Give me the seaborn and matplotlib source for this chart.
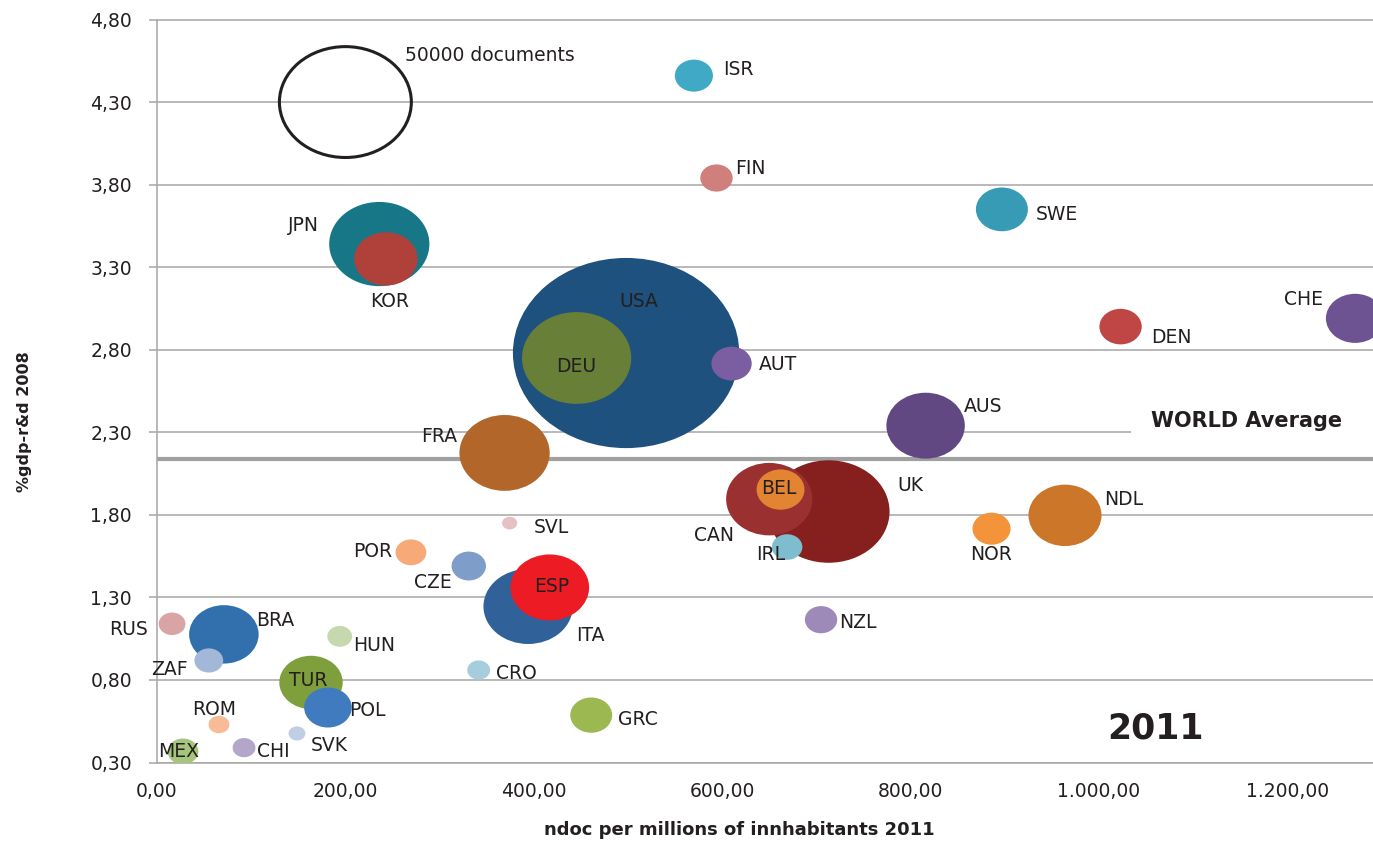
import numpy as np
import pandas as pd
import seaborn as sns
import matplotlib.pyplot as plt
from matplotlib.path import Path
from matplotlib.markers import MarkerStyle
from matplotlib.ticker import FuncFormatter

# data
countries = ["USA", "UK", "DEU", "JPN", "FRA", "ITA", "CAN", "ESP", "AUS", "NDL",
             "BRA", "KOR", "TUR", "CHE", "SWE", "BEL", "POL", "DEN", "GRC", "AUT",
             "ISR", "NOR", "CZE", "FIN", "NZL", "MEX", "POR", "IRL", "ZAF", "RUS",
             "HUN", "CRO", "CHI", "ROM", "SVK", "SVL"]
ndoc = [498, 713, 445.5, 236, 369, 394, 650, 417, 816, 964,
        71, 243, 163.5, 1272, 897, 662, 181.5, 1023, 461, 610,
        570, 886, 331, 594, 705, 27.6, 269.6, 669, 55, 16,
        194, 341.5, 92.4, 65.8, 148.6, 374.4]
gdp_rd = [2.78, 1.82, 2.75, 3.44, 2.175, 1.245, 1.895, 1.36, 2.34, 1.797,
          1.076, 3.35, 0.785, 2.99, 3.65, 1.953, 0.633, 2.94, 0.587, 2.716,
          4.46, 1.716, 1.49, 3.84, 1.165, 0.367, 1.573, 1.605, 0.918, 1.14,
          1.064, 0.86, 0.39, 0.53, 0.476, 1.75]
docs = [151500, 44000, 35300, 29700, 24100, 23600, 22000, 18300, 18200, 15800,
        14300, 11900, 11900, 10100, 8000, 6800, 6700, 5300, 5200, 4800,
        4300, 4300, 3500, 3100, 3100, 2800, 2800, 2750, 2450, 2120,
        1820, 1540, 1540, 1280, 840, 680]
colors = ["#1f517f", "#85201e", "#677f37", "#177787", "#b26629", "#306299", "#9b3031", "#ed1c24", "#614882", "#cb7629",
          "#3170ad", "#b0403a", "#7f9f3c", "#6e5393", "#389bb5", "#e38432", "#3f7bbe", "#c04545", "#9bb851", "#7b5ea1",
          "#3fa9c6", "#f3943b", "#7f9dc9", "#cf7f7c", "#9e8ab8", "#a5c47c", "#f7aa78", "#7ebccf", "#a3b7d9", "#d8a4a6",
          "#c6d8ae", "#a5cddc", "#b3a6c8", "#f7bb97", "#c0cee4", "#e5c1c3"]

x_ticks = [0, 200, 400, 600, 800, 1000, 1200]
y_ticks = [0.30, 0.80, 1.30, 1.80, 2.30, 2.80, 3.30, 3.80, 4.30, 4.80]
world_avg = 2.14
ref_docs = 50000

# label offsets from bubble centre in pixels (dx right, dy down) and alignment
label_pos = {
    "ISR": (29, -8, "left"), "FIN": (19, -12, "left"), "SWE": (34, 3, "left"),
    "JPN": (-60, -21, "right"), "KOR": (4, 41, "center"), "USA": (13, -54, "center"),
    "DEU": (0, 7, "center"), "AUT": (27, -1, "left"), "FRA": (-47, -18, "right"),
    "AUS": (38, -21, "left"), "CHE": (-32, -21, "right"), "DEN": (31, 9, "left"),
    "UK": (69, -28, "left"), "NDL": (39, -18, "left"), "NOR": (0, 24, "center"),
    "BEL": (-2, -3, "center"), "CAN": (-35, 34, "right"), "SVL": (24, 2, "left"),
    "IRL": (-2, 5, "right"), "CZE": (-17, 14, "right"), "ESP": (2, -3, "center"),
    "ITA": (48, 27, "left"), "NZL": (18, 1, "left"), "CRO": (17, 1, "left"),
    "GRC": (27, 2, "left"), "POR": (-19, -3, "right"), "RUS": (-24, 4, "right"),
    "BRA": (32, -16, "left"), "HUN": (13, 7, "left"), "ZAF": (-21, 7, "right"),
    "TUR": (-3, -4, "center"), "POL": (21, 1, "left"), "ROM": (-5, -17, "center"),
    "CHI": (13, 2, "left"), "SVK": (14, 10, "left"), "MEX": (-4, -2, "center"),
}

df = pd.DataFrame({"country": countries, "ndoc": ndoc, "gdp": gdp_rd, "docs": docs})
df = df.sort_values("docs", ascending=False)
pal = dict(zip(countries, colors))

sns.set_theme(style="white")
plt.rcParams["font.family"] = ["DejaVu Sans"]
txt_col = "#231f20"
grid_col = "#a6a6a6"

fig = plt.figure(figsize=(13.73, 8.42), dpi=100)
ax = fig.add_axes([157 / 1373, 1 - 762.5 / 842, 1 - 157 / 1373, 743 / 842])

# Excel bubbles come out slightly oval
circ = Path.unit_circle()
marker = MarkerStyle(Path(circ.vertices * [1.19, 1.0], circ.codes))
s_per_doc = (130 * 0.72) ** 2 / ref_docs
dmax = max(docs)

ax.axhline(world_avg, color="#a0a0a0", lw=3, zorder=1)

sns.scatterplot(data=df, x="ndoc", y="gdp", hue="country", palette=pal,
                size="docs", sizes=(0, s_per_doc * dmax), size_norm=(0, dmax),
                marker=marker, linewidth=0, edgecolor="none", legend=False,
                ax=ax, zorder=3)

# reference bubble
sns.scatterplot(x=[200], y=[4.30], s=s_per_doc * ref_docs * 1.03, marker=marker,
                facecolors="none", edgecolor=txt_col, linewidth=2.2, ax=ax, zorder=3)
ax.annotate("50000 documents", (200, 4.30), xytext=(60 * 0.72, 47 * 0.72),
            textcoords="offset points", ha="left", va="center",
            fontsize=13.5, color=txt_col, zorder=5)

for c, xv, yv in zip(countries, ndoc, gdp_rd):
    dx, dy, ha = label_pos[c]
    ax.annotate(c, (xv, yv), xytext=(dx * 0.72, -(dy + 2) * 0.72),
                textcoords="offset points", ha=ha, va="center",
                fontsize=13.5, color=txt_col, zorder=5)

# white box behind the label hides the 2,30 gridline up to the right edge
ax.text(1055, 2.37, "WORLD Average    ", fontsize=15, fontweight="bold", color=txt_col,
        ha="left", va="center", zorder=2,
        bbox=dict(boxstyle="square,pad=0.95", fc="white", ec="none"))
ax.text(1060, 0.505, "2011", fontsize=25, fontweight="bold", color=txt_col,
        ha="center", va="center", zorder=5)

ax.set_xlim(0, 1291)
ax.set_ylim(0.30, 4.80)
ax.set_xticks(x_ticks)
ax.set_yticks(y_ticks)
ax.xaxis.set_major_formatter(FuncFormatter(
    lambda v, p: f"{v:,.2f}".replace(",", "X").replace(".", ",").replace("X", ".")))
ax.yaxis.set_major_formatter(FuncFormatter(lambda v, p: f"{v:.2f}".replace(".", ",")))
ax.yaxis.grid(True, color=grid_col, lw=1.1)
ax.set_axisbelow(True)
ax.tick_params(axis="y", left=True, length=6, width=1.1, color=grid_col, pad=12,
               labelsize=13.5, labelcolor=txt_col)
ax.tick_params(axis="x", bottom=False, length=0, pad=14, labelsize=13.5, labelcolor=txt_col)
for sp in ["top", "right"]:
    ax.spines[sp].set_visible(False)
for sp in ["left", "bottom"]:
    ax.spines[sp].set_color(grid_col)
    ax.spines[sp].set_linewidth(1.1)

ax.set_xlabel("ndoc per millions of innhabitants 2011", fontsize=13, fontweight="bold",
              color=txt_col, va="center")
ax.xaxis.set_label_coords((739 - 157) / 1216, -(830 - 762.5) / 743)
ax.set_ylabel("%gdp-r&d 2008", fontsize=11.5, fontweight="bold", color=txt_col, va="center")
ax.yaxis.set_label_coords(-(157 - 25) / 1216, (762.5 - 422) / 743)

fig.savefig("out.png", dpi=100)
